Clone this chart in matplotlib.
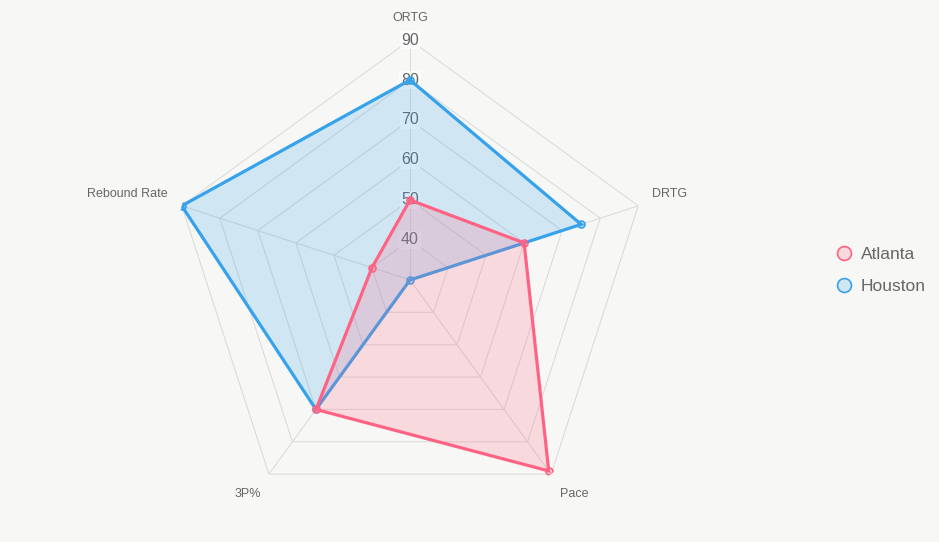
import numpy as np
import matplotlib
matplotlib.use("Agg")
import matplotlib.pyplot as plt
from matplotlib.lines import Line2D

plt.rcParams["font.family"] = ["Liberation Sans", "DejaVu Sans"]

categories = ["ORTG", "DRTG", "Pace", "3P%", "Rebound Rate"]
atlanta = [50, 60, 89, 70, 40]
houston = [80, 75, 30, 70, 90]
ticks = [40, 50, 60, 70, 80, 90]
rmin, rmax = 30, 90

bg = "#f7f7f5"
pink = (255/255, 99/255, 132/255)
blue = (54/255, 162/255, 235/255)
grid_c = "#dcdcdc"
text_c = "#666666"

W, H = 939, 542
fig = plt.figure(figsize=(W/100, H/100), dpi=100, facecolor=bg)
cx, cy, R = 410, 280, 240
ax = fig.add_axes([(cx-R)/W, (H-cy-R)/H, 2*R/W, 2*R/H], projection="polar")
ax.set_facecolor("none")
ax.set_theta_offset(np.pi/2)
ax.set_theta_direction(-1)
ax.set_ylim(rmin, rmax)
ax.grid(False)
ax.spines["polar"].set_visible(False)
ax.set_xticks([])
ax.set_yticks([])

n = len(categories)
theta = np.linspace(0, 2*np.pi, n, endpoint=False)
tc = np.concatenate([theta, theta[:1]])

# polygon grid
for t in ticks:
    ax.plot(tc, [t]*(n+1), color=grid_c, lw=0.8, zorder=1)
for th in theta:
    ax.plot([th, th], [rmin, rmax], color=grid_c, lw=0.8, zorder=1)

# tick labels (drawn beneath the datasets)
for t in ticks:
    ax.text(0, t, str(t), ha="center", va="center", fontsize=11.5, color=text_c, zorder=1.5,
            bbox=dict(facecolor=(1, 1, 1, 0.75), edgecolor="none", pad=1.2))

def draw(vals, col, z):
    v = np.concatenate([vals, vals[:1]])
    ax.fill(tc, v, color=(*col, 0.2), lw=0, zorder=z)
    ax.plot(tc, v, color=col, lw=2.3, zorder=z+0.1, solid_joinstyle="miter")
    ax.plot(theta, vals, ls="none", marker="o", ms=5, mfc=(*col, 0.2), mec=col, mew=1.2, zorder=z+0.2)

draw(np.array(houston, float), blue, 2)
draw(np.array(atlanta, float), pink, 3)

# category labels
offsets = [(0, 22, "center"), (14, 12, "left"), (9, -20, "left"), (-8, -20, "right"), (-14, 12, "right")]
for th, lab, (dx, dy, ha) in zip(theta, categories, offsets):
    ax.annotate(lab, xy=(th, rmax), xytext=(dx, dy), textcoords="offset pixels",
                ha=ha, va="center", fontsize=9, color=text_c, annotation_clip=False)

handles = [Line2D([], [], ls="none", marker="o", ms=10, mfc=(*pink, 0.2), mec=pink, mew=1.2),
           Line2D([], [], ls="none", marker="o", ms=10, mfc=(*blue, 0.2), mec=blue, mew=1.2)]
leg = fig.legend(handles, ["Atlanta", "Houston"], loc="center left",
                 bbox_to_anchor=(818/W, 1-270.5/H), frameon=False, fontsize=12.5,
                 labelcolor=text_c, handletextpad=0.35, labelspacing=0.95, handlelength=1.2)

fig.savefig("out.png", dpi=100, facecolor=bg)
